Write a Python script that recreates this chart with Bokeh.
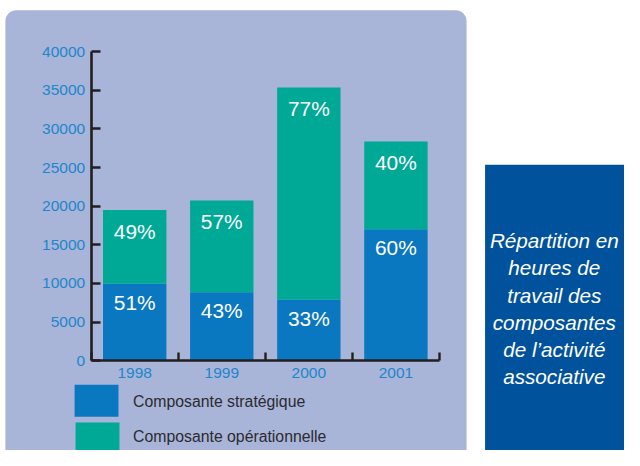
from bokeh.plotting import figure
from bokeh.models import Range1d, LinearAxis, FixedTicker, BoxAnnotation, ColumnDataSource
from bokeh.core.properties import value
from bokeh.embed import file_html
from bokeh.resources import INLINE

# ---------------- data ----------------
years = ["1998", "1999", "2000", "2001"]
strategique = [9950, 8875, 7875, 17000]
operationnelle = [9550, 11875, 27500, 11375]
strat_labels = ["51%", "43%", "33%", "60%"]
oper_labels = ["49%", "57%", "77%", "40%"]
y_ticks = [0, 5000, 10000, 15000, 20000, 25000, 30000, 35000, 40000]
y_tick_labels = ["0", "5000", "10000", "15000", "20000", "25000", "30000", "35000", "40000"]
legend_names = ["Composante stratégique", "Composante opérationnelle"]
side_lines = ["Répartition en", "heures de", "travail des", "composantes", "de l’activité", "associative"]

# ---------------- layout / styles ----------------
W, H = 624, 450            # canvas size
REF_W, REF_H = 640, 466    # design grid
X0 = 93.0                  # design pixel of x = 0
CAT_W = 89.3               # design px per category
Y0 = 373.0                 # design pixel of y = 0
UPP = 125.0                # data units per design pixel
FS = 0.97                  # font scale (canvas / design)

def X(px):
    return (px - X0) / CAT_W

def Y(py):
    return (Y0 - py) * UPP

def fs(size):
    return "%.1fpx" % (size * FS)

BLUE = "#0a77c1"
GREEN = "#00a896"
PANEL = "#a8b4d8"
BOX = "#01529c"
AXIS = "#231f20"
TICKLAB = "#1e86cc"
FONT = "Liberation Sans"

p = figure(width=W, height=H, x_range=Range1d(X(0), X(REF_W)),
           y_range=Range1d(Y(REF_H), Y(0)),
           x_axis_type=None, y_axis_type=None, min_border=0,
           toolbar_location=None, output_backend="svg",
           background_fill_color="white", border_fill_color="white",
           outline_line_color=None)

# background panel and side box
p.add_layout(BoxAnnotation(left=X(5), right=X(478), top=Y(10), bottom=Y(500),
                           fill_color=PANEL, fill_alpha=1, line_color=None,
                           border_radius=11, level="underlay"))
p.add_layout(BoxAnnotation(left=X(497), right=X(680), top=Y(170), bottom=Y(500),
                           fill_color=BOX, fill_alpha=1, line_color=None,
                           level="underlay"))

# bars
centers = [i + 0.5 for i in range(len(years))]
totals = [a + b for a, b in zip(strategique, operationnelle)]
src = ColumnDataSource(dict(x=centers, strat=strategique, oper=operationnelle))
p.vbar_stack(["strat", "oper"], x="x", width=65 / CAT_W, source=src,
             color=[BLUE, GREEN], line_color=None)

# percentage labels
p.text(x=centers, y=[t - 22 * UPP for t in totals], text=oper_labels,
       text_align="center", text_baseline="alphabetic", text_color="white",
       text_font=value(FONT), text_font_size=fs(21.5))
p.text(x=centers, y=[s - 19 * UPP for s in strategique], text=strat_labels,
       text_align="center", text_baseline="alphabetic", text_color="white",
       text_font=value(FONT), text_font_size=fs(21.5))

# y axis
yaxis = LinearAxis(fixed_location=0, ticker=FixedTicker(ticks=y_ticks),
                   bounds=(y_ticks[0], y_ticks[-1]),
                   axis_line_color=AXIS, axis_line_width=2.6,
                   major_tick_line_color=AXIS, major_tick_line_width=2.4,
                   major_tick_in=9, major_tick_out=0,
                   minor_tick_line_color=None,
                   major_label_standoff=6,
                   major_label_text_font=FONT, major_label_text_font_size=fs(16),
                   major_label_text_color=TICKLAB,
                   major_label_overrides={t: l for t, l in zip(y_ticks, y_tick_labels)})
p.add_layout(yaxis, "left")

# x axis line with category boundary ticks
bounds_ticks = list(range(len(years) + 1))
xaxis = LinearAxis(fixed_location=0, ticker=FixedTicker(ticks=bounds_ticks),
                   bounds=(0, len(years)),
                   axis_line_color=AXIS, axis_line_width=2.6,
                   major_tick_line_color=AXIS, major_tick_line_width=2.4,
                   major_tick_in=8, major_tick_out=0,
                   minor_tick_line_color=None,
                   major_label_text_color=None, major_label_text_font_size="1px")
p.add_layout(xaxis, "below")

# x category labels
xlab = LinearAxis(fixed_location=0, ticker=FixedTicker(ticks=centers),
                  axis_line_color=None, major_tick_line_color=None,
                  minor_tick_line_color=None, major_label_standoff=1,
                  major_label_text_font=FONT, major_label_text_font_size=fs(16),
                  major_label_text_color=TICKLAB,
                  major_label_overrides={c: y for c, y in zip(centers, years)})
p.add_layout(xlab, "below")

# legend (manual)
p.quad(left=[X(76), X(77)], right=[X(121), X(122)],
       top=[Y(398), Y(437)], bottom=[Y(431), Y(500)],
       color=[BLUE, GREEN], line_color=None)
p.text(x=[X(136), X(136)], y=[Y(415.5), Y(452)], text=legend_names,
       text_align="left", text_baseline="alphabetic", text_color="#2b2b30",
       text_font=value(FONT), text_font_size=fs(16.3))

# side text
p.text(x=[X(568)] * len(side_lines), y=[Y(249 + 28 * i) for i in range(len(side_lines))],
       text=side_lines, text_align="center", text_baseline="alphabetic",
       text_color="white", text_font=value(FONT), text_font_style="italic",
       text_font_size=fs(21.3))

open("out.html", "w").write(file_html(p, INLINE))
